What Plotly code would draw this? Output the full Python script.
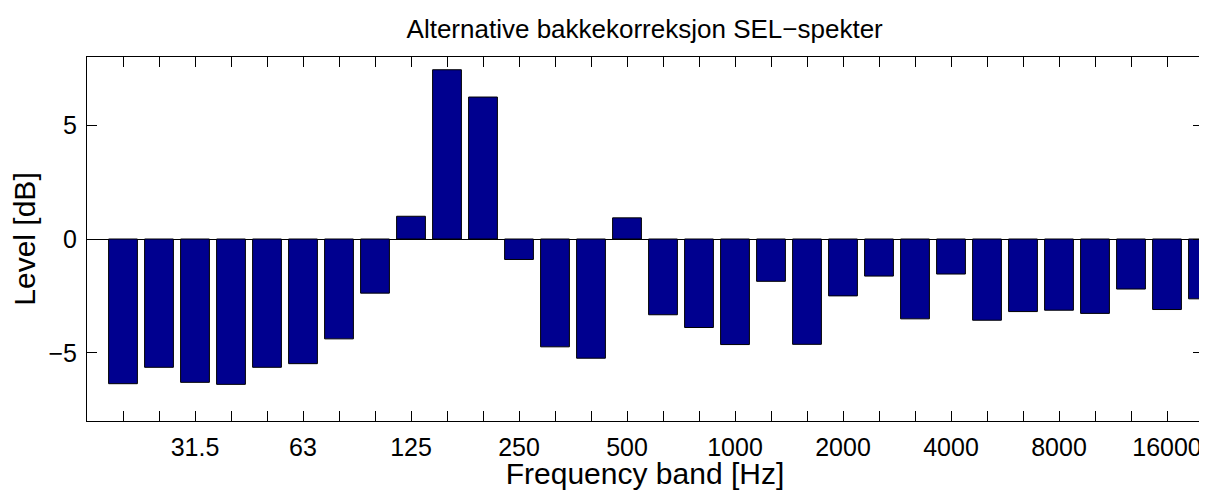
import plotly.graph_objects as go

# third-octave bands, 20 Hz .. 20 kHz
bands = ['20', '25', '31.5', '40', '50', '63', '80', '100', '125', '160',
         '200', '250', '315', '400', '500', '630', '800', '1000', '1250', '1600',
         '2000', '2500', '3150', '4000', '5000', '6300', '8000', '10000', '12500', '16000',
         '20000']
level_db = [-6.36, -5.64, -6.30, -6.39, -5.64, -5.48, -4.39, -2.38, 1.00, 7.44,
            6.24, -0.90, -4.74, -5.24, 0.93, -3.33, -3.89, -4.64, -1.86, -4.63,
            -2.50, -1.63, -3.51, -1.54, -3.57, -3.19, -3.13, -3.27, -2.20, -3.10,
            -2.63]
# only every third band (octaves) gets a label
labelled = ['31.5', '63', '125', '250', '500', '1000', '2000', '4000', '8000', '16000']
tick_text = [b if b in labelled else '' for b in bands]

FONT = 'Liberation Sans, Arial, Helvetica, sans-serif'

fig = go.Figure()
fig.add_trace(go.Bar(
    x=bands, y=level_db, width=0.8,
    marker=dict(color='#00008F', line=dict(color='black', width=1)),
))

# the page body has an 8px default margin, so the figure is 8px smaller
# and the margins are shifted to keep the axes where the reference has them
fig.update_layout(
    width=1199, height=482,
    margin=dict(l=79, r=4, t=49, b=69),
    paper_bgcolor='white', plot_bgcolor='white',
    showlegend=False,
    font=dict(family=FONT, size=25, color='black'),
    title=dict(text='Alternative bakkekorreksjon SEL\u2212spekter',
               x=0.531, xanchor='center', y=0.956, yanchor='middle',
               font=dict(size=26)),
)
fig.update_xaxes(
    type='category', range=[-1, len(bands) - 1],
    tickvals=bands, ticktext=tick_text,
    ticks='inside', ticklen=10, tickcolor='black', tickwidth=1,
    ticklabelstandoff=4,
    showline=True, linecolor='black', linewidth=1, mirror='allticks',
    showgrid=False, zeroline=False, automargin=False,
    title=dict(text='Frequency band [Hz]', standoff=3),
)
fig.update_yaxes(
    range=[-8, 8], tickvals=[-5, 0, 5],
    ticks='inside', ticklen=10, tickcolor='black', tickwidth=1,
    ticklabelstandoff=4,
    showline=True, linecolor='black', linewidth=1, mirror='allticks',
    showgrid=False, zeroline=True, zerolinecolor='black', zerolinewidth=1,
    automargin=False,
    title=dict(text='Level [dB]', standoff=13),
)

fig.write_html('out.html')
